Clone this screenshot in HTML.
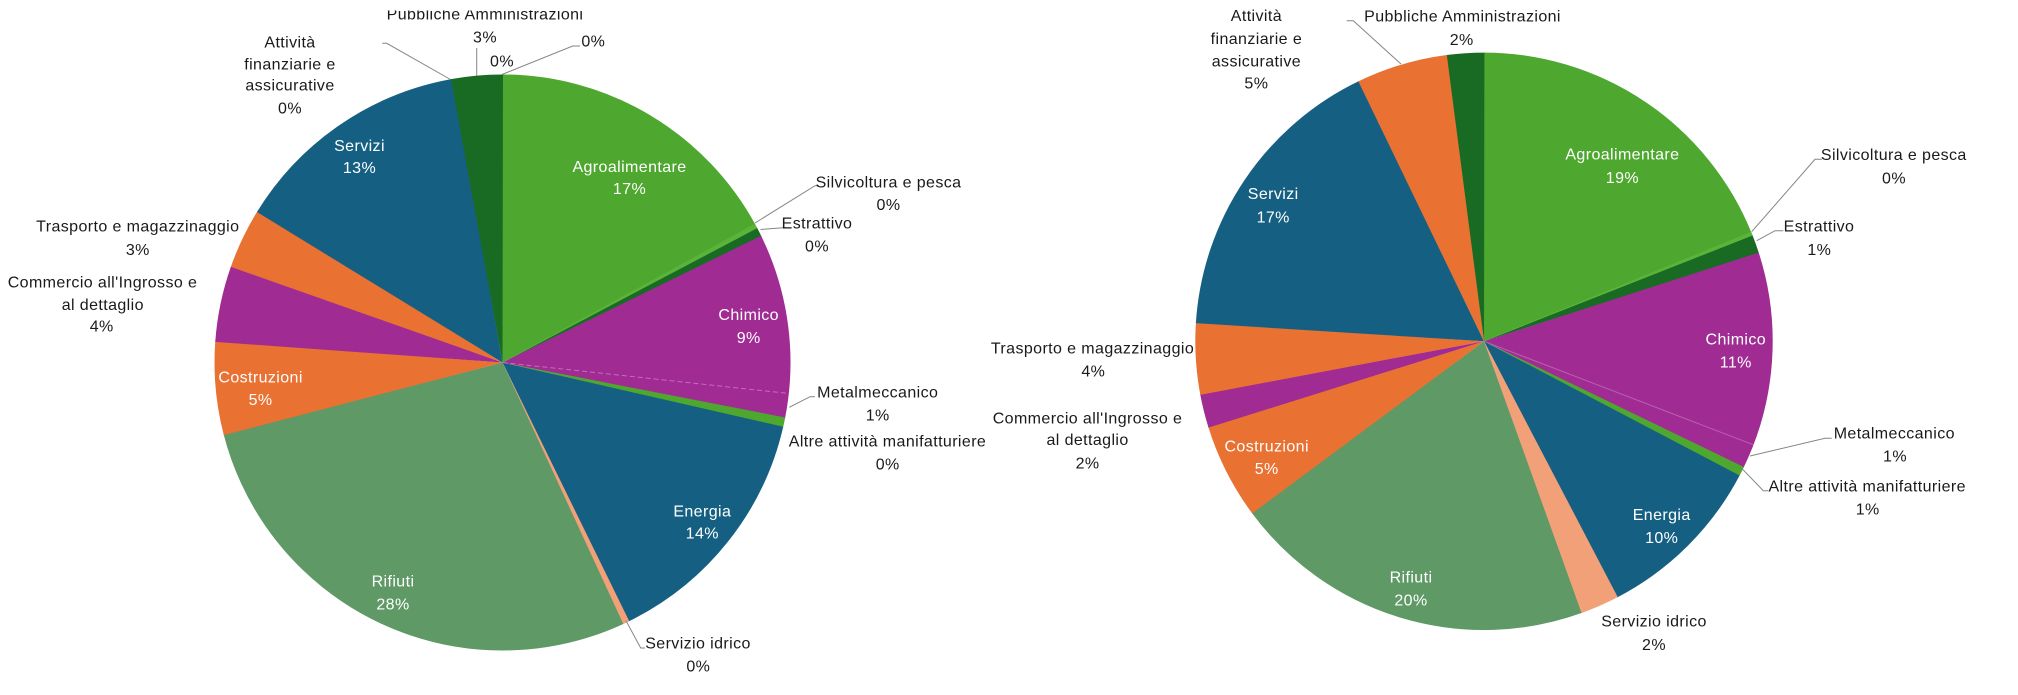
<!DOCTYPE html>
<html><head><meta charset="utf-8"><style>
html,body{margin:0;padding:0;background:#fff;}
svg{display:block;}
text{font-family:"Liberation Sans",sans-serif;font-size:16px;letter-spacing:0.4px;text-anchor:middle;fill:#1a1a1a;}
text.w{fill:#ffffff;}
.ld{stroke:#858585;stroke-width:1;fill:none;}
</style></head><body>
<svg width="2018" height="695" viewBox="0 0 2018 695" xmlns="http://www.w3.org/2000/svg">
<rect x="0" y="0" width="2018" height="695" fill="#fff"/>

<!-- LEFT PIE: center 502.5,362.5 r 288 -->
<g fill="none" stroke-width="288">
<circle cx="502.5" cy="362.5" r="144" pathLength="360" stroke="#4EA72E" stroke-dasharray="61.4 400" transform="rotate(-90 502.5 362.5)"/>
<circle cx="502.5" cy="362.5" r="144" pathLength="360" stroke="#5CB33A" stroke-dasharray="1.2 400" transform="rotate(-28.8 502.5 362.5)"/>
<circle cx="502.5" cy="362.5" r="144" pathLength="360" stroke="#196B24" stroke-dasharray="1.9 400" transform="rotate(-27.8 502.5 362.5)"/>
<circle cx="502.5" cy="362.5" r="144" pathLength="360" stroke="#A02B93" stroke-dasharray="37.3 400" transform="rotate(-26.1 502.5 362.5)"/>
<circle cx="502.5" cy="362.5" r="144" pathLength="360" stroke="#4EA72E" stroke-dasharray="2.1 400" transform="rotate(11 502.5 362.5)"/>
<circle cx="502.5" cy="362.5" r="144" pathLength="360" stroke="#156082" stroke-dasharray="51.2 400" transform="rotate(12.9 502.5 362.5)"/>
<circle cx="502.5" cy="362.5" r="144" pathLength="360" stroke="#F1A078" stroke-dasharray="1.5 400" transform="rotate(63.9 502.5 362.5)"/>
<circle cx="502.5" cy="362.5" r="144" pathLength="360" stroke="#5E9966" stroke-dasharray="100.4 400" transform="rotate(65.2 502.5 362.5)"/>
<circle cx="502.5" cy="362.5" r="144" pathLength="360" stroke="#E97132" stroke-dasharray="18.9 400" transform="rotate(165.4 502.5 362.5)"/>
<circle cx="502.5" cy="362.5" r="144" pathLength="360" stroke="#A02B93" stroke-dasharray="15.5 400" transform="rotate(184.1 502.5 362.5)"/>
<circle cx="502.5" cy="362.5" r="144" pathLength="360" stroke="#E97132" stroke-dasharray="12.3 400" transform="rotate(199.4 502.5 362.5)"/>
<circle cx="502.5" cy="362.5" r="144" pathLength="360" stroke="#156082" stroke-dasharray="48.4 400" transform="rotate(211.5 502.5 362.5)"/>
<circle cx="502.5" cy="362.5" r="144" pathLength="360" stroke="#196B24" stroke-dasharray="10.4 400" transform="rotate(259.7 502.5 362.5)"/>
</g>
<line x1="502.5" y1="362.5" x2="788.9" y2="393.5" stroke="#C76BBD" stroke-width="1" stroke-dasharray="5 3"/>

<!-- RIGHT PIE: center 1484,341.3 r 288.7 -->
<g fill="none" stroke-width="288.7">
<circle cx="1484" cy="341.3" r="144.35" pathLength="360" stroke="#4EA72E" stroke-dasharray="67.9 400" transform="rotate(-90 1484 341.3)"/>
<circle cx="1484" cy="341.3" r="144.35" pathLength="360" stroke="#5CB33A" stroke-dasharray="1.0 400" transform="rotate(-22.3 1484 341.3)"/>
<circle cx="1484" cy="341.3" r="144.35" pathLength="360" stroke="#196B24" stroke-dasharray="3.8 400" transform="rotate(-21.5 1484 341.3)"/>
<circle cx="1484" cy="341.3" r="144.35" pathLength="360" stroke="#A02B93" stroke-dasharray="43.9 400" transform="rotate(-17.9 1484 341.3)"/>
<circle cx="1484" cy="341.3" r="144.35" pathLength="360" stroke="#4EA72E" stroke-dasharray="2.1 400" transform="rotate(25.8 1484 341.3)"/>
<circle cx="1484" cy="341.3" r="144.35" pathLength="360" stroke="#156082" stroke-dasharray="34.9 400" transform="rotate(27.7 1484 341.3)"/>
<circle cx="1484" cy="341.3" r="144.35" pathLength="360" stroke="#F1A078" stroke-dasharray="8.05 400" transform="rotate(62.4 1484 341.3)"/>
<circle cx="1484" cy="341.3" r="144.35" pathLength="360" stroke="#5E9966" stroke-dasharray="73.35 400" transform="rotate(70.25 1484 341.3)"/>
<circle cx="1484" cy="341.3" r="144.35" pathLength="360" stroke="#E97132" stroke-dasharray="19.4 400" transform="rotate(143.4 1484 341.3)"/>
<circle cx="1484" cy="341.3" r="144.35" pathLength="360" stroke="#A02B93" stroke-dasharray="6.9 400" transform="rotate(162.6 1484 341.3)"/>
<circle cx="1484" cy="341.3" r="144.35" pathLength="360" stroke="#E97132" stroke-dasharray="14.5 400" transform="rotate(169.3 1484 341.3)"/>
<circle cx="1484" cy="341.3" r="144.35" pathLength="360" stroke="#156082" stroke-dasharray="60.8 400" transform="rotate(183.6 1484 341.3)"/>
<circle cx="1484" cy="341.3" r="144.35" pathLength="360" stroke="#E97132" stroke-dasharray="18.6 400" transform="rotate(244.2 1484 341.3)"/>
<circle cx="1484" cy="341.3" r="144.35" pathLength="360" stroke="#196B24" stroke-dasharray="7.5 400" transform="rotate(262.6 1484 341.3)"/>
</g>
<line x1="1484" y1="341.3" x2="1753.5" y2="444.8" stroke="#B860AE" stroke-width="1"/>

<!-- LEFT leader lines -->
<polyline class="ld" points="382.3,43.3 386.7,43.3 450.5,79.5"/>
<line class="ld" x1="476.7" y1="48" x2="476.7" y2="76"/>
<polyline class="ld" points="580,46 572.7,46 502,74.5"/>
<polyline class="ld" points="819,185.7 815,185.7 755,223"/>
<polyline class="ld" points="786,227.7 783,227.7 760.5,229.5"/>
<polyline class="ld" points="815,396.7 810,396.7 789.3,407.3"/>
<polyline class="ld" points="645,648 640.7,648 626,620.7"/>

<!-- RIGHT leader lines -->
<polyline class="ld" points="1346.7,20.7 1353.3,20.7 1401,64"/>
<polyline class="ld" points="1822,159.3 1815,159.3 1751.7,231.7"/>
<polyline class="ld" points="1783.3,230.7 1775,230.7 1756.7,240.7"/>
<polyline class="ld" points="1831.7,438.3 1825,438.3 1750,456"/>
<polyline class="ld" points="1768.3,490.7 1763.3,490.7 1741.7,468.3"/>

<!-- LEFT labels -->
<text x="485" y="19.5">Pubbliche Amministrazioni</text>
<rect x="370" y="0" width="240" height="10.5" fill="#fff"/>
<text x="485" y="42.7">3%</text>
<text x="502" y="66.7">0%</text>
<text x="593.3" y="46.7">0%</text>
<text x="290" y="47.3">Attività</text>
<text x="290" y="69.3">finanziarie e</text>
<text x="290" y="90.7">assicurative</text>
<text x="290" y="113.3">0%</text>
<text class="w" x="359.5" y="151">Servizi</text>
<text class="w" x="359.5" y="173">13%</text>
<text class="w" x="629.5" y="171.8">Agroalimentare</text>
<text class="w" x="629.5" y="194">17%</text>
<text x="888.5" y="187.3">Silvicoltura e pesca</text>
<text x="888.5" y="210.2">0%</text>
<text x="817" y="228.4">Estrattivo</text>
<text x="817" y="251.4">0%</text>
<text class="w" x="748.7" y="319.9">Chimico</text>
<text class="w" x="748.7" y="342.9">9%</text>
<text x="877.7" y="397.3">Metalmeccanico</text>
<text x="877.7" y="420.7">1%</text>
<text x="887.5" y="446.7">Altre attività manifatturiere</text>
<text x="887.7" y="469.3">0%</text>
<text class="w" x="702.3" y="516.6">Energia</text>
<text class="w" x="702.3" y="538.7">14%</text>
<text x="698" y="648.3">Servizio idrico</text>
<text x="698.3" y="671.7">0%</text>
<text class="w" x="393" y="586.5">Rifiuti</text>
<text class="w" x="393" y="609.5">28%</text>
<text class="w" x="260.6" y="382.5">Costruzioni</text>
<text class="w" x="260.6" y="405">5%</text>
<text x="102.5" y="287.3">Commercio all'Ingrosso e</text>
<text x="102.8" y="310">al dettaglio</text>
<text x="101.7" y="331.7">4%</text>
<text x="137.8" y="231.7">Trasporto e magazzinaggio</text>
<text x="137.8" y="255">3%</text>

<!-- RIGHT labels -->
<text x="1256.4" y="21">Attività</text>
<text x="1256.4" y="43.8">finanziarie e</text>
<text x="1256.4" y="66.3">assicurative</text>
<text x="1256.4" y="88.5">5%</text>
<text x="1462.5" y="21.7">Pubbliche Amministrazioni</text>
<text x="1461.7" y="45">2%</text>
<text class="w" x="1273.2" y="199">Servizi</text>
<text class="w" x="1273.2" y="222.3">17%</text>
<text class="w" x="1622.4" y="159.7">Agroalimentare</text>
<text class="w" x="1622.4" y="182.8">19%</text>
<text x="1893.8" y="160">Silvicoltura e pesca</text>
<text x="1894" y="183.3">0%</text>
<text x="1819" y="231.7">Estrattivo</text>
<text x="1819.3" y="255">1%</text>
<text class="w" x="1735.8" y="344.5">Chimico</text>
<text class="w" x="1735.8" y="367.6">11%</text>
<text x="1894.3" y="438.3">Metalmeccanico</text>
<text x="1895" y="461.7">1%</text>
<text x="1867.2" y="491.7">Altre attività manifatturiere</text>
<text x="1867.7" y="514.3">1%</text>
<text class="w" x="1661.7" y="520">Energia</text>
<text class="w" x="1661.7" y="543">10%</text>
<text x="1654" y="626.7">Servizio idrico</text>
<text x="1654" y="650">2%</text>
<text class="w" x="1411" y="582.7">Rifiuti</text>
<text class="w" x="1411" y="605.7">20%</text>
<text class="w" x="1266.7" y="451.7">Costruzioni</text>
<text class="w" x="1266.7" y="474">5%</text>
<text x="1087.5" y="423.3">Commercio all'Ingrosso e</text>
<text x="1087.6" y="445">al dettaglio</text>
<text x="1087.6" y="468.3">2%</text>
<text x="1092.5" y="353.3">Trasporto e magazzinaggio</text>
<text x="1093.3" y="376.7">4%</text>
</svg>
</body></html>
